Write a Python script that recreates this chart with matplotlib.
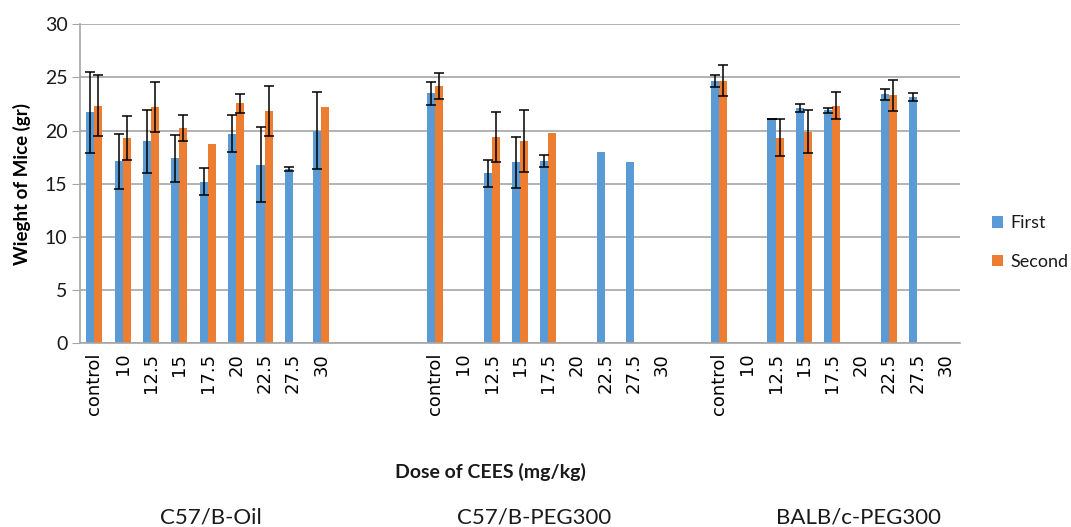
import numpy as np
import matplotlib
matplotlib.use("Agg")
import matplotlib.pyplot as plt

doses = ["control", "10", "12.5", "15", "17.5", "20", "22.5", "27.5", "30"]
groups = ["C57/B-Oil", "C57/B-PEG300", "BALB/c-PEG300"]
nan = np.nan

# First weighing (mean, sd) per group
first_oil = [21.7, 17.1, 19.0, 17.4, 15.2, 19.7, 16.8, 16.4, 20.0]
first_oil_err = [3.85, 2.6, 2.97, 2.2, 1.27, 1.74, 3.57, 0.17, 3.6]
first_peg = [23.5, nan, 16.0, 17.0, 17.1, nan, 17.95, 17.0, nan]
first_peg_err = [1.08, nan, 1.27, 2.41, 0.56, nan, nan, nan, nan]
first_balb = [24.7, nan, 21.1, 22.1, 21.9, nan, 23.4, 23.15, nan]
first_balb_err = [0.56, nan, 0.03, 0.4, 0.25, nan, 0.5, 0.36, nan]

# Second weighing
second_oil = [22.35, 19.3, 22.25, 20.25, 18.75, 22.55, 21.85, nan, 22.25]
second_oil_err = [2.9, 2.1, 2.36, 1.2, nan, 0.93, 2.35, nan, nan]
second_peg = [24.2, nan, 19.4, 19.0, 19.8, nan, nan, nan, nan]
second_peg_err = [1.25, nan, 2.35, 2.93, nan, nan, nan, nan, nan]
second_balb = [24.7, nan, 19.3, 19.9, 22.35, nan, 23.3, nan, nan]
second_balb_err = [1.49, nan, 1.74, 2.0, 1.27, nan, 1.43, nan, nan]

# category slots on the axis: groups separated by blank categories
group_starts = [0, 12, 22]
n_slots = 31

def spread(vals_list):
    arr = np.full(n_slots, np.nan)
    for start, vals in zip(group_starts, vals_list):
        arr[start:start + len(vals)] = vals
    return arr

first = spread([first_oil, first_peg, first_balb])
first_err = spread([first_oil_err, first_peg_err, first_balb_err])
second = spread([second_oil, second_peg, second_balb])
second_err = spread([second_oil_err, second_peg_err, second_balb_err])

labels = [""] * n_slots
for start in group_starts:
    for i, d in enumerate(doses):
        labels[start + i] = d

blue = "#5B9BD5"
orange = "#ED7D31"
grid_c = "#A6A6A6"
txt_c = "#1a1a1a"

plt.rcParams["font.family"] = ["Lato", "DejaVu Sans"]

fig = plt.figure(figsize=(10.71, 5.27), dpi=100)
ax = fig.add_axes([0.0747, 0.349, 0.8217, 0.605])

x = np.arange(n_slots)
w = 0.283
ax.bar(x - w / 2, first, width=w, color=blue, label="First", zorder=2)
ax.bar(x + w / 2, second, width=w, color=orange, label="Second", zorder=2)
ek = dict(fmt="none", ecolor="black", elinewidth=1.1, capsize=3.5, capthick=1.1, zorder=3)
ax.errorbar(x - w / 2, first, yerr=first_err, **ek)
ax.errorbar(x + w / 2, second, yerr=second_err, **ek)

ax.set_xlim(-0.5, n_slots - 0.5)
ax.set_ylim(0, 30)
ax.set_yticks(range(0, 31, 5))
ax.yaxis.grid(True, color=grid_c, linewidth=1.2, zorder=0)
ax.set_axisbelow(True)
ax.set_xticks(x)
ax.set_xticklabels(labels, rotation=90, fontsize=13, family="DejaVu Sans", color="black")
ax.tick_params(axis="x", length=0, pad=7)
ax.tick_params(axis="y", length=6, color=grid_c, labelsize=14, pad=3, labelcolor=txt_c)
for s in ["top", "right"]:
    ax.spines[s].set_visible(False)
for s in ["left", "bottom"]:
    ax.spines[s].set_color(grid_c)
    ax.spines[s].set_linewidth(1.2)

ax.set_ylabel("Wieght of Mice (gr)", fontsize=13.5, fontweight="bold", labelpad=10)

fig.text(490 / 1071, 1 - 472 / 527, "Dose of CEES (mg/kg)", ha="center", va="center",
         fontsize=14, fontweight="bold", color=txt_c)
for gx, g in zip([211, 534, 858], groups):
    fig.text(gx / 1071, 1 - 517 / 527, g, ha="center", va="center", fontsize=16,
             color=txt_c)

leg = ax.legend(loc="center left", bbox_to_anchor=(985 / 1071, 1 - 242.5 / 527),
                bbox_transform=fig.transFigure, frameon=False, borderaxespad=0,
                fontsize=13, handlelength=0.6, handleheight=0.6, labelspacing=1.25,
                handletextpad=0.4)
for t in leg.get_texts():
    t.set_color(txt_c)

fig.savefig("out.png", dpi=100)
